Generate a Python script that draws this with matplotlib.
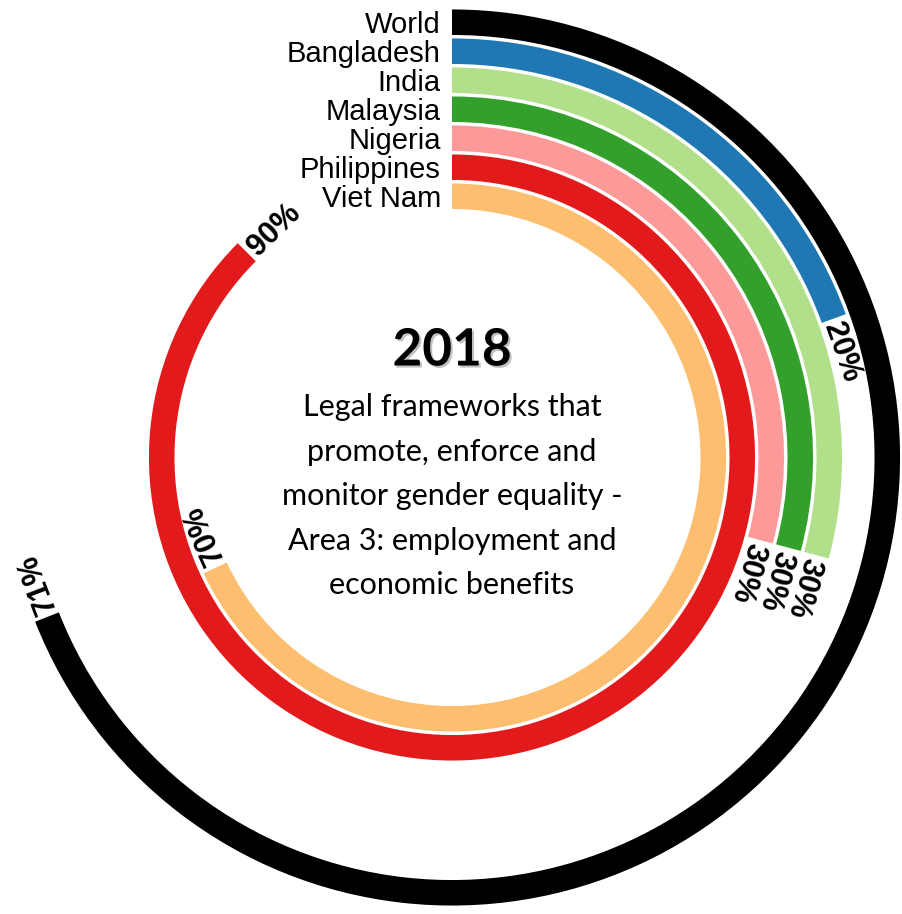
"""Radial bar chart: legal frameworks on employment and economic benefits, 2018."""
import numpy as np
import matplotlib
matplotlib.use("Agg")
import matplotlib.pyplot as plt
import matplotlib.patheffects as pe

countries = ["World", "Bangladesh", "India", "Malaysia", "Nigeria",
             "Philippines", "Viet Nam"]
shares = [71, 20, 30, 30, 30, 90, 70]
colors = ["#000000", "#1f78b4", "#b2df8a", "#33a02c", "#fb9a99",
          "#e31a1c", "#fdbf6f"]

year = "2018"
subtitle = ("Legal frameworks that\npromote, enforce and\n"
            "monitor gender equality -\nArea 3: employment and\n"
            "economic benefits")

W, H = 903, 914
fig = plt.figure(figsize=(W / 100, H / 100), dpi=100)

# polar axes centred on the rings; one radial unit = one ring
R_MAX = 15.5
half = 449.5
cx, cy = 452, H - 457.5
ax = fig.add_axes([(cx - half) / W, (cy - half) / H, 2 * half / W, 2 * half / H],
                  projection="polar")
ax.set_theta_zero_location("N")
ax.set_theta_direction(-1)
ax.set_ylim(0, R_MAX)
ax.axis("off")

# 100 % fills 350 degrees, leaving a gap at the top
FULL = np.radians(350)
ring_h = 0.88
outer_base = 14.57

for k, (name, val, col) in enumerate(zip(countries, shares, colors)):
    r_in = outer_base - k
    r_mid = r_in + ring_h / 2
    span = FULL * val / 100
    ax.bar(0, ring_h, width=span, bottom=r_in, align="edge",
           color=col, edgecolor="none", linewidth=0)

    # country name to the left of the ring start
    ax.annotate(name, xy=(0, r_mid), xytext=(-8, 0), textcoords="offset points",
                ha="right", va="center_baseline", fontsize=21,
                family="Liberation Sans", color="black")

    # value label following the tangent just past the arc end
    end = span + 0.15 / r_mid
    ax.text(end, r_mid, f"{val}%", rotation=-np.degrees(end),
            rotation_mode="anchor", ha="left", va="center_baseline",
            fontsize=22, fontweight="bold", family="Liberation Sans")

fig.text(cx / W, (H - 351) / H, year, ha="center", va="center",
         fontsize=37, fontweight="bold", family="Lato",
         path_effects=[pe.SimplePatchShadow(offset=(1.5, -1.5),
                                            shadow_rgbFace="#999999", alpha=0.6),
                       pe.Normal()])
fig.text(cx / W, (H - 393) / H, subtitle, ha="center", va="top",
         fontsize=22, family="Lato", linespacing=1.72, multialignment="center")

fig.savefig("out.png", dpi=100)
